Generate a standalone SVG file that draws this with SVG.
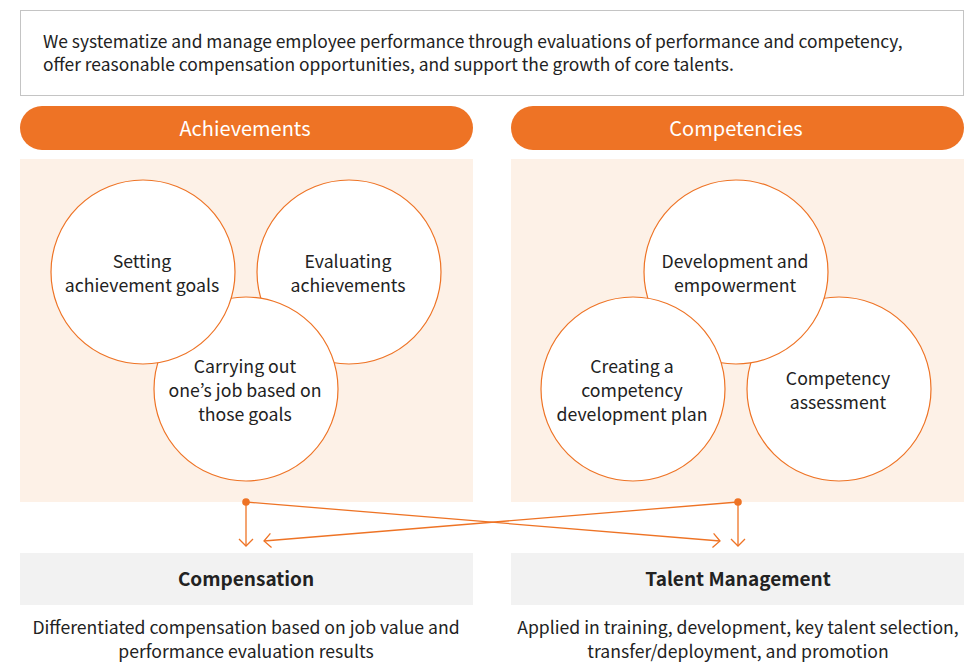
<svg xmlns="http://www.w3.org/2000/svg" width="966" height="667" viewBox="0 0 966 667">
<defs>
<style>
text{font-family:"Noto Sans CJK KR","Source Sans Pro","Noto Sans",sans-serif;fill:#222;text-anchor:middle}
.intro{font-size:17.4px;text-anchor:start}
.hdr{font-size:20px;fill:#fff}
.pill{fill:#ee7325}
.panel{fill:#fdf1e7}
.circ{fill:#fff;stroke:#ee7325;stroke-width:1.2}
.ct{font-size:17.7px}
.gray{fill:#f2f2f2}
.bt{font-size:19px;font-weight:bold}
.desc{font-size:17.6px}
.con{stroke:#ee7325;stroke-width:1.3;fill:none}
</style>
<marker id="arr" viewBox="-10 -10 12 20" markerWidth="12" markerHeight="20" refX="0" refY="0" orient="auto" markerUnits="userSpaceOnUse">
<path d="M-7,-7 L0,0 L-7,7" fill="none" stroke="#ee7325" stroke-width="1.3"/>
</marker>
</defs>
<rect width="966" height="667" fill="#fff"/>
<g id="intro">
<rect x="20.5" y="10.5" width="943" height="85" fill="#fff" stroke="#c4c4c4" stroke-width="1"/>
<text class="intro" x="43" y="48">We systematize and manage employee performance through evaluations of performance and competency,</text>
<text class="intro" x="43" y="71">offer reasonable compensation opportunities, and support the growth of core talents.</text>
</g>
<g id="achievements">
<rect class="pill" x="20" y="106" width="453" height="44" rx="22"/>
<text class="hdr" x="245" y="136">Achievements</text>
<rect class="panel" x="20" y="159" width="453" height="343"/>
</g>
<g id="competencies">
<rect class="pill" x="511" y="106" width="453" height="44" rx="22"/>
<text class="hdr" x="736" y="136">Competencies</text>
<rect class="panel" x="511" y="159" width="453" height="343"/>
</g>
<g id="evaluating">
<circle class="circ" cx="349" cy="272" r="92"/>
<text class="ct" x="348" y="268">Evaluating</text>
<text class="ct" x="348" y="292">achievements</text>
</g>
<g id="carrying">
<circle class="circ" cx="246" cy="389" r="92"/>
<text class="ct" x="245" y="373">Carrying out</text>
<text class="ct" x="245" y="397">one’s job based on</text>
<text class="ct" x="245" y="421">those goals</text>
</g>
<g id="setting">
<circle class="circ" cx="143" cy="272" r="92"/>
<text class="ct" x="142" y="268">Setting</text>
<text class="ct" x="142" y="292">achievement goals</text>
</g>
<g id="assessment">
<circle class="circ" cx="839" cy="389" r="92"/>
<text class="ct" x="838" y="385">Competency</text>
<text class="ct" x="838" y="409">assessment</text>
</g>
<g id="development">
<circle class="circ" cx="736" cy="272" r="92"/>
<text class="ct" x="735" y="268">Development and</text>
<text class="ct" x="735" y="292">empowerment</text>
</g>
<g id="plan">
<circle class="circ" cx="633" cy="389" r="92"/>
<text class="ct" x="632" y="373">Creating a</text>
<text class="ct" x="632" y="397">competency</text>
<text class="ct" x="632" y="421">development plan</text>
</g>
<g id="compensation">
<rect class="gray" x="20" y="553" width="453" height="52"/>
<text class="bt" x="246" y="586">Compensation</text>
<text class="desc" x="246" y="634">Differentiated compensation based on job value and</text>
<text class="desc" x="246" y="658">performance evaluation results</text>
</g>
<g id="talent">
<rect class="gray" x="511" y="553" width="453" height="52"/>
<text class="bt" x="738" y="586">Talent Management</text>
<text class="desc" x="738" y="634">Applied in training, development, key talent selection,</text>
<text class="desc" x="738" y="658">transfer/deployment, and promotion</text>
</g>
<g id="connectors">
<line class="con" x1="246" y1="502" x2="246" y2="546" marker-end="url(#arr)"/>
<line class="con" x1="246" y1="502" x2="720" y2="541" marker-end="url(#arr)"/>
<line class="con" x1="738" y1="502" x2="738" y2="546" stroke="#f3a06a" marker-end="url(#arr)"/>
<line class="con" x1="738" y1="502" x2="264" y2="541" marker-end="url(#arr)"/>
<circle cx="246" cy="502" r="3.8" fill="#ee7325"/>
<circle cx="738" cy="502" r="3.8" fill="#ee7325"/>
</g>
</svg>
